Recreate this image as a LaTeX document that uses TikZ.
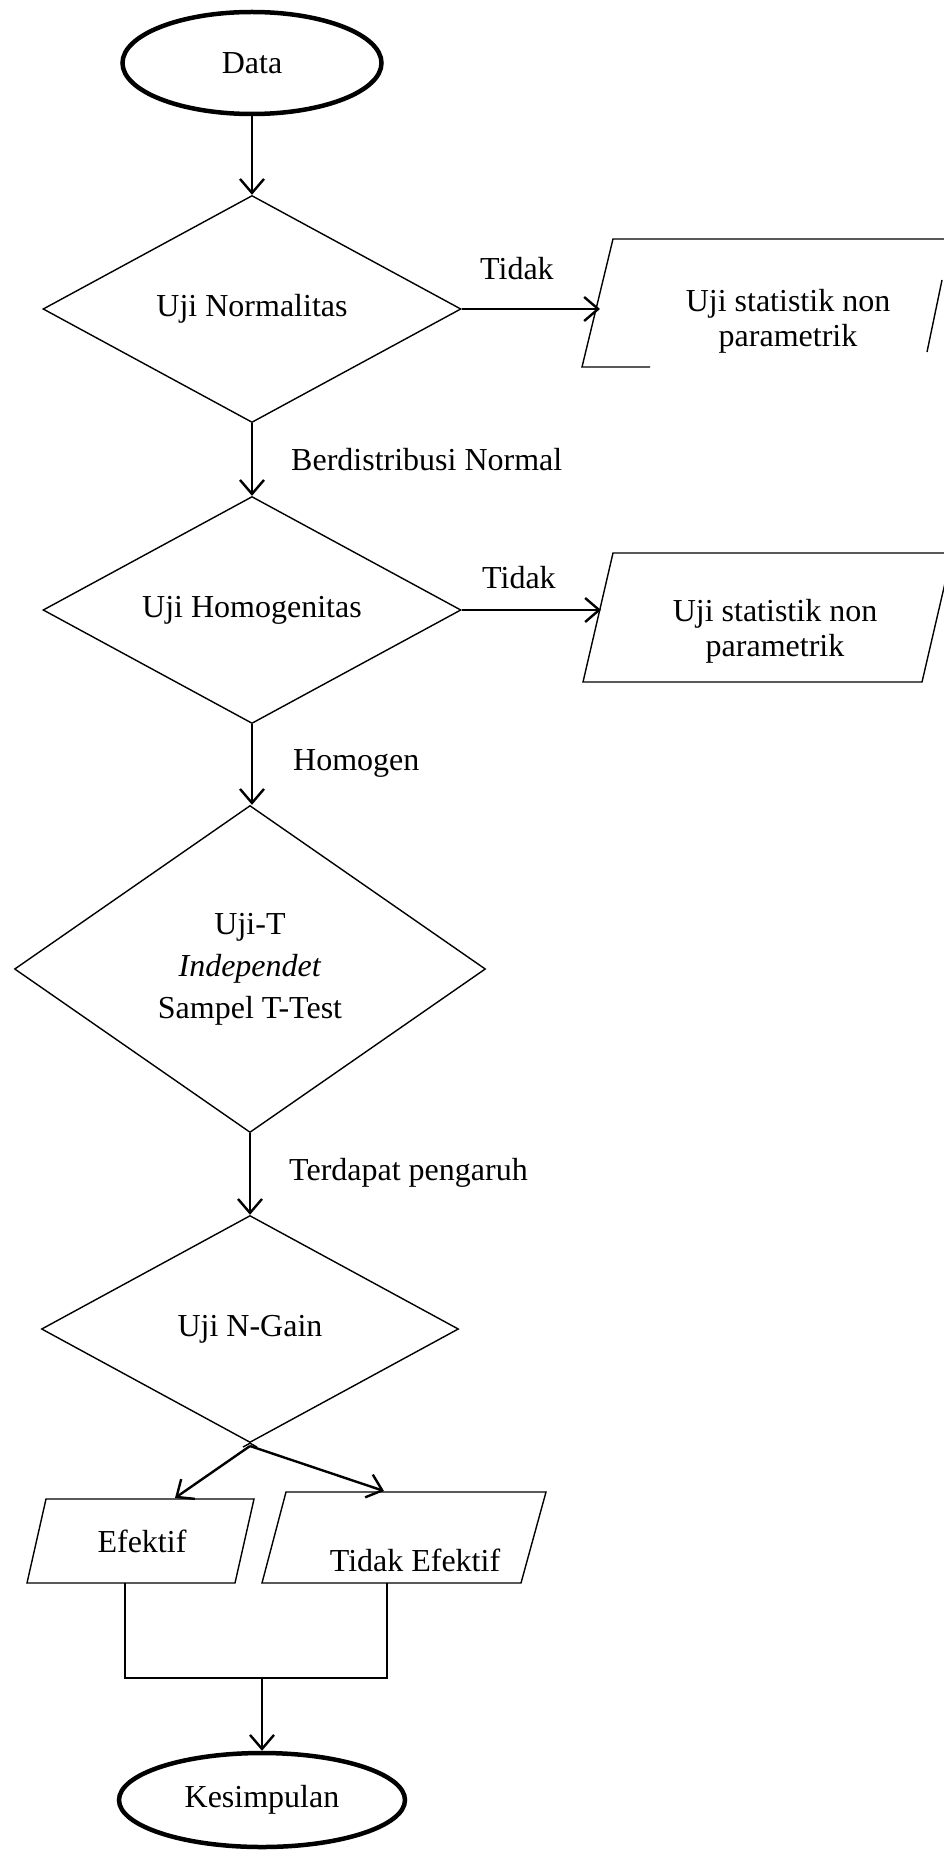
\documentclass[tikz,border=0pt]{standalone}
\usepackage{fontspec}
\setmainfont{Liberation Serif}
\usetikzlibrary{shapes.geometric,arrows.meta}
\begin{document}
\begin{tikzpicture}[x=1pt,y=-1pt,
  txt/.style={font=\fontsize{32}{35}\selectfont, align=center, inner sep=0pt},
  term/.style={ellipse, draw, line width=4.5pt, inner sep=0pt, txt},
  dec/.style={diamond, draw, line width=1.4pt, inner sep=0pt, shape aspect=1.84, txt},
  box/.style={draw, line width=1.4pt, line join=miter},
  arr/.style={line width=2.4pt, -{Straight Barb[length=14pt,width=24pt,line width=2.4pt]}},
  conn/.style={line width=2pt},
  lbl/.style={txt, anchor=base west}
]
\useasboundingbox (0,0) rectangle (944,1851);

% terminals
\node[term, minimum width=259pt, minimum height=102pt] (data) at (252,63) {Data};
\node[term, minimum width=286pt, minimum height=94pt] (kes) at (262,1800) {Kesimpulan};

% decisions
\node[dec, minimum width=418pt, minimum height=227pt] (d1) at (252,309) {Uji Normalitas};
\node[dec, minimum width=418pt, minimum height=227pt] (d2) at (252,610) {Uji Homogenitas};
\node[dec, shape aspect=1.44, minimum width=471pt, minimum height=327pt, font=\fontsize{32}{42}\selectfont] (d3) at (250,969) {Uji-T\\\textit{Independet}\\Sampel T-Test};
\node[dec, minimum width=417pt, minimum height=227pt] (d4) at (250,1329) {Uji N-Gain};

% parallelogram 1 (partly drawn, as in the reference)
\draw[box] (944,239) -- (613,239) -- (582,367) -- (650,367);
\draw[box] (942,280) -- (927,352);
\node[txt] (p1) at (788,321) {Uji statistik non\\parametrik};

% parallelogram 2
\draw[box] (613,553) -- (952,553) -- (922,682) -- (583,682) -- cycle;
\node[txt] (p2) at (775,631) {Uji statistik non\\parametrik};

% output parallelograms
\draw[box] (46,1499) -- (254,1499) -- (235,1583) -- (27,1583) -- cycle;
\node[txt, anchor=base] (eff) at (142,1552) {Efektif};
\draw[box] (286,1492) -- (546,1492) -- (521,1583) -- (262,1583) -- cycle;
\node[txt, anchor=base] (teff) at (415,1571) {Tidak Efektif};

% coordinates for connector ends
\coordinate (p1in) at (600,309);
\coordinate (p2in) at (601,610);
\coordinate (split) at (250,1446);
\coordinate (effin) at (175,1498);
\coordinate (teffin) at (384,1491);
\coordinate (effout) at (125,1583);
\coordinate (teffout) at (387,1583);
\coordinate (effj) at (125,1678);
\coordinate (teffj) at (387,1678);
\coordinate (merge) at (262,1678);

% labels
\node[lbl] (t1) at (480,280) {Tidak};
\node[lbl] (t2) at (482,588) {Tidak};
\node[lbl] (bn) at (291,470) {Berdistribusi Normal};
\node[lbl] (hm) at (293,770) {Homogen};
\node[lbl] (tp) at (289,1180) {Terdapat pengaruh};

% connectors
\draw[arr] (data.south) -- (d1.north);
\draw[arr] (d1.east) -- (p1in);
\draw[arr] (d1.south) -- (d2.north);
\draw[arr] (d2.east) -- (p2in);
\draw[arr] (d2.south) -- (d2.south |- d3.north);
\draw[arr] (d3.south) -- (d4.north);
\draw[line width=1.4pt] (d4.south) -- ++(7,3.8);
\draw[line width=1.4pt] (d4.south) -- ++(-7,3.8);
\draw[arr] (split) -- (effin);
\draw[arr] (split) -- (teffin);
\draw[conn] (effout) -- (effj) -- (teffj) -- (teffout);
\draw[arr] (merge) -- (kes.north);
\end{tikzpicture}
\end{document}
